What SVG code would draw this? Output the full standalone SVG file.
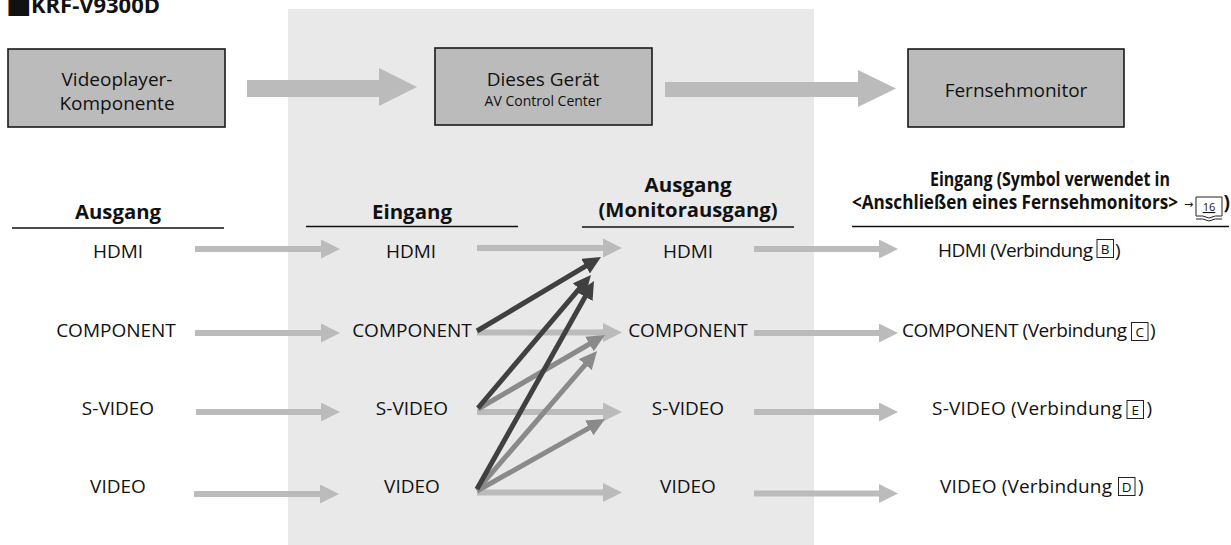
<svg xmlns="http://www.w3.org/2000/svg" width="1231" height="545" viewBox="0 0 1231 545">
<style>
.t{font-family:"Open Sans","Noto Sans",sans-serif;font-size:19px;fill:#111}
.c{text-anchor:middle}
.b{font-weight:bold}
.box{fill:#bbbbbb;stroke:#1a1a1a;stroke-width:1.6}
.ul{stroke:#111;stroke-width:1.6}
.lbox{fill:none;stroke:#222;stroke-width:1}
.lt{font-family:"Open Sans","Noto Sans",sans-serif;font-size:13.5px;fill:#111;text-anchor:middle}
.big{fill:#bbbbbb}
.lg{stroke:#bbbbbb;stroke-width:6;fill:none;marker-end:url(#hl)}
.md{stroke:#8a8a8a;stroke-width:5;fill:none;marker-end:url(#hm)}
.dk{stroke:#404040;stroke-width:5;fill:none;marker-end:url(#hd)}
</style>
<defs>
<marker id="hl" markerUnits="userSpaceOnUse" markerWidth="19" markerHeight="19" refX="7" refY="9.5" orient="auto"><path d="M0,0 L19,9.5 L0,19 z" fill="#bbbbbb"/></marker>
<marker id="hm" markerUnits="userSpaceOnUse" markerWidth="18" markerHeight="17" refX="6" refY="8.5" orient="auto"><path d="M0,0 L18,8.5 L0,17 z" fill="#8a8a8a"/></marker>
<marker id="hd" markerUnits="userSpaceOnUse" markerWidth="18" markerHeight="17" refX="6" refY="8.5" orient="auto"><path d="M0,0 L18,8.5 L0,17 z" fill="#404040"/></marker>
</defs>
<rect width="1231" height="545" fill="#ffffff"/>
<rect id="panel" x="288" y="9" width="526" height="536" fill="#e9e9e9"/>
<g id="title">
<text class="t b" y="13"><tspan x="6" style="font-family:'DejaVu Sans',sans-serif;font-size:27px">■</tspan><tspan x="31" textLength="129" lengthAdjust="spacingAndGlyphs" style="font-size:22px">KRF-V9300D</tspan></text>
</g>
<g id="flow">
<polygon class="big" points="247,80 379,80 379,68 417,87 379,106 379,97 247,97"/>
<polygon class="big" points="665,82 858,82 858,70 896,88.5 858,107 858,97 665,97"/>
</g>
<g id="node-player">
<rect class="box" x="8" y="49" width="217" height="78"/>
<text class="t c" x="117" y="86">Videoplayer-</text>
<text class="t c" x="117" y="110">Komponente</text>
</g>
<g id="node-device">
<rect class="box" x="435" y="48" width="217" height="77"/>
<text class="t c" x="543" y="86">Dieses Gerät</text>
<text class="t c" x="543" y="106" style="font-size:14px">AV Control Center</text>
</g>
<g id="node-tv">
<rect class="box" x="908" y="49" width="216" height="78"/>
<text class="t c" x="1016" y="97">Fernsehmonitor</text>
</g>
<g id="col-out">
<text class="t c b" x="118" y="219" textLength="86" lengthAdjust="spacingAndGlyphs">Ausgang</text>
<line class="ul" x1="12" y1="228" x2="224" y2="228"/>
<text class="t c" x="118" y="258">HDMI</text>
<text class="t c" x="116" y="337">COMPONENT</text>
<text class="t c" x="118" y="415">S-VIDEO</text>
<text class="t c" x="118" y="493">VIDEO</text>
</g>
<g id="col-in">
<text class="t c b" x="412" y="219" textLength="80" lengthAdjust="spacingAndGlyphs">Eingang</text>
<line class="ul" x1="306" y1="226.5" x2="518" y2="226.5"/>
<text class="t c" x="411" y="258">HDMI</text>
<text class="t c" x="412" y="337">COMPONENT</text>
<text class="t c" x="412" y="415">S-VIDEO</text>
<text class="t c" x="412" y="493">VIDEO</text>
</g>
<g id="col-monitor">
<text class="t c b" x="688" y="192" textLength="87" lengthAdjust="spacingAndGlyphs">Ausgang</text>
<text class="t c b" x="688" y="217" textLength="179" lengthAdjust="spacingAndGlyphs">(Monitorausgang)</text>
<line class="ul" x1="582" y1="227" x2="794" y2="227"/>
<text class="t c" x="688" y="258">HDMI</text>
<text class="t c" x="688" y="337">COMPONENT</text>
<text class="t c" x="688" y="415">S-VIDEO</text>
<text class="t c" x="688" y="493">VIDEO</text>
</g>
<g id="col-tv">
<text class="t c b" x="1050" y="186" textLength="240" lengthAdjust="spacingAndGlyphs">Eingang (Symbol verwendet in</text>
<text class="t b" x="852" y="209" textLength="326" lengthAdjust="spacingAndGlyphs">&lt;Anschließen eines Fernsehmonitors&gt;</text>
<text x="1188.5" y="208" style="font-family:'DejaVu Sans',sans-serif;font-size:11px;fill:#111;text-anchor:middle">→</text>
<path d="M1196,197 H1222 V216 M1196,197 V216 M1196,216 Q1203,215 1209,218 Q1215,215 1222,216 M1196,219 Q1203,218 1209,221 Q1215,218 1222,219" fill="none" stroke="#222" stroke-width="1"/>
<text class="lt" x="1209" y="211" style="font-size:11px" text-decoration="underline">16</text>
<text class="t b" x="1223.5" y="209">)</text>
<line class="ul" x1="852" y1="226.5" x2="1229" y2="226.5"/>
<text class="t" x="938" y="257" textLength="155" lengthAdjust="spacing">HDMI (Verbindung</text>
<rect class="lbox" x="1097" y="239.5" width="16.5" height="18"/>
<text class="lt" x="1105.2" y="253.5">B</text>
<text class="t" x="1115" y="257">)</text>
<text class="t" x="902" y="337" textLength="225" lengthAdjust="spacing">COMPONENT (Verbindung</text>
<rect class="lbox" x="1131.5" y="322.5" width="16.5" height="18"/>
<text class="lt" x="1139.7" y="336.5">C</text>
<text class="t" x="1150" y="337">)</text>
<text class="t" x="932" y="415" textLength="190" lengthAdjust="spacing">S-VIDEO (Verbindung</text>
<rect class="lbox" x="1127" y="400.5" width="16.5" height="18"/>
<text class="lt" x="1135.2" y="414.5">E</text>
<text class="t" x="1146.5" y="415">)</text>
<text class="t" x="940" y="493" textLength="172" lengthAdjust="spacing">VIDEO (Verbindung</text>
<rect class="lbox" x="1118.5" y="477.5" width="16.5" height="18"/>
<text class="lt" x="1126.7" y="491.5">D</text>
<text class="t" x="1138" y="493">)</text>
</g>
<g id="connectors">
<line class="lg" x1="195" y1="249" x2="328" y2="249"/>
<line class="lg" x1="195" y1="333" x2="328" y2="333"/>
<line class="lg" x1="196" y1="412" x2="328" y2="412"/>
<line class="lg" x1="194" y1="494" x2="327" y2="494"/>
<line class="lg" x1="477" y1="248" x2="610" y2="248"/>
<line class="lg" x1="477" y1="332.5" x2="610" y2="332.5"/>
<line class="lg" x1="477" y1="412" x2="610" y2="412"/>
<line class="lg" x1="477" y1="492.5" x2="610" y2="492.5"/>
<line class="lg" x1="754" y1="249" x2="886" y2="249"/>
<line class="lg" x1="754" y1="333" x2="886" y2="333"/>
<line class="lg" x1="754" y1="412" x2="886" y2="412"/>
<line class="lg" x1="754" y1="493.5" x2="886" y2="493.5"/>
<line class="md" x1="478" y1="409" x2="594.6" y2="341"/>
<line class="md" x1="477" y1="490" x2="589.2" y2="360.1"/>
<line class="md" x1="477" y1="491" x2="594.5" y2="424.9"/>
<line class="dk" x1="477" y1="331" x2="590.7" y2="263.1"/>
<line class="dk" x1="478" y1="408" x2="583.2" y2="284.2"/>
<line class="dk" x1="477" y1="489" x2="588.1" y2="291.5"/>
</g>
</svg>
